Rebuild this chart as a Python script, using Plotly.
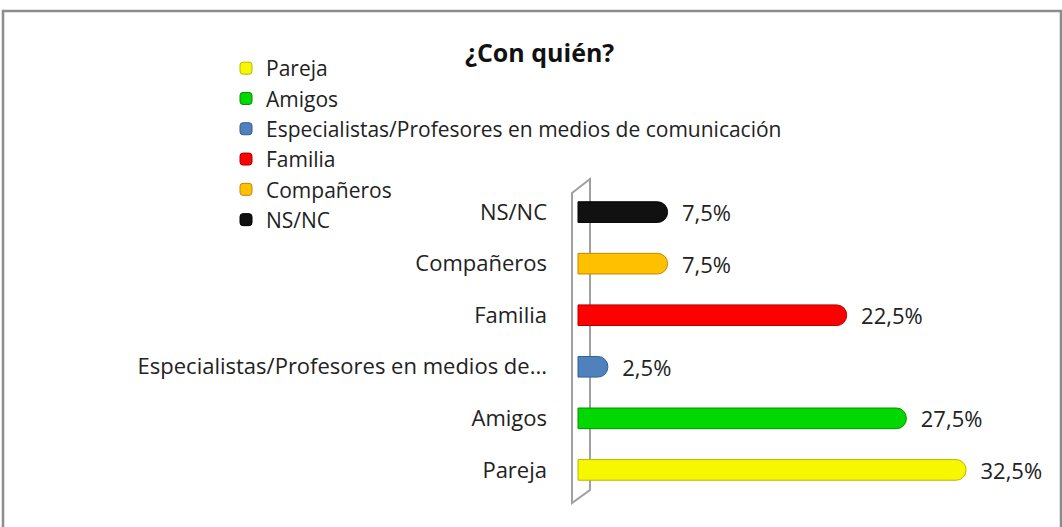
import plotly.graph_objects as go

categories = ["Pareja", "Amigos", "Especialistas/Profesores en medios de comunicación",
              "Familia", "Compañeros", "NS/NC"]
tick_labels = ["Pareja", "Amigos", "Especialistas/Profesores en medios de...",
               "Familia", "Compañeros", "NS/NC"]
values = [32.5, 27.5, 2.5, 22.5, 7.5, 7.5]
colors = ["#F7F700", "#00D800", "#4F81BD", "#FF0000", "#FFC000", "#111111"]
edge_colors = ["#B8B800", "#009000", "#2F5F95", "#B00000", "#C08A00", "#000000"]

W, H = 1062, 527
L, R, T, B = 570, 1040, 176, 506
FONT = "'Open Sans', sans-serif"
FS = 22

def px(x):
    return (x - L) / (R - L)

def py(y):
    return (B - y) / (B - T)

fig = go.Figure()
for i, (c, v) in enumerate(zip(categories, values)):
    fig.add_trace(go.Bar(
        x=[v], y=[i], orientation="h", name=c,
        marker=dict(color=colors[i], line=dict(color=edge_colors[i], width=1)),
        width=0.4,
        text=[v], texttemplate="  %{x:.1f}%", textposition="outside",
        constraintext="none",
        textfont=dict(size=FS, color="#222222", family=FONT),
        cliponaxis=False,
        hoverinfo="skip",
    ))

shapes = [
    dict(type="path", xref="paper", yref="paper",
         path=f"M {px(572)} {py(193)} L {px(590)} {py(179)} L {px(590)} {py(490)} L {px(572)} {py(503)} Z",
         line=dict(color="#A0A0A0", width=2), fillcolor="rgba(0,0,0,0)", layer="below"),
    dict(type="rect", xref="paper", yref="paper",
         x0=px(3), x1=px(1061), y0=py(532), y1=py(11),
         line=dict(color="#8C8C8C", width=2.5), fillcolor="rgba(0,0,0,0)", layer="below"),
]

fig.update_layout(
    width=W, height=H,
    margin=dict(l=L, r=W - R, t=T, b=H - B, pad=0, autoexpand=False),
    paper_bgcolor="white", plot_bgcolor="rgba(0,0,0,0)",
    barmode="overlay", barcornerradius=10,
    separators=",.",
    showlegend=True,
    legend=dict(x=px(226), y=py(48), xanchor="left", yanchor="top",
                font=dict(size=21, family=FONT, color="#222222"),
                traceorder="normal", bgcolor="rgba(0,0,0,0)",
                itemclick=False, tracegroupgap=0),
    xaxis=dict(range=[-0.67, (R - 578) / 11.94], visible=False, fixedrange=True),
    yaxis=dict(range=[-0.7, 5.7], tickmode="array", tickvals=list(range(6)),
               ticktext=tick_labels, showgrid=False, zeroline=False, showline=False,
               ticks="", ticklabelstandoff=22,
               tickfont=dict(size=FS, family=FONT, color="#222222")),
    shapes=shapes,
    annotations=[dict(text="<b>¿Con quién?</b>", xref="paper", yref="paper",
                      x=px(539), y=py(52), xanchor="center", yanchor="middle",
                      showarrow=False, font=dict(size=25, family=FONT, color="#111111"))],
)

fig.write_html("out.html", config={"displayModeBar": False},
               post_script="document.body.style.margin='0';")
